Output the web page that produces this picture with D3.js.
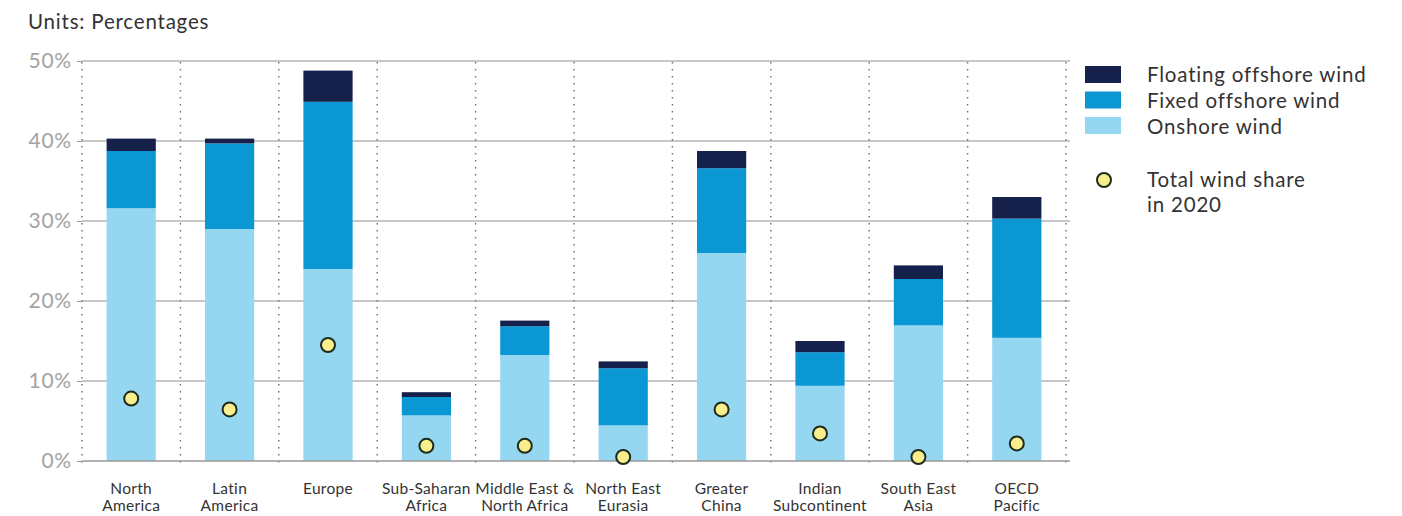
<!DOCTYPE html>
<html>
<head>
<meta charset="utf-8">
<script src="https://cdn.jsdelivr.net/npm/d3@7"></script>
<style>
  body { margin: 0; background: #fff; }
  svg { font-family: Lato, "Open Sans", sans-serif; }
</style>
</head>
<body>
<div id="chart"></div>
<script>
// Data
const regions = ["North America", "Latin America", "Europe", "Sub-Saharan Africa", "Middle East & North Africa",
    "North East Eurasia", "Greater China", "Indian Subcontinent", "South East Asia", "OECD Pacific"];
const regionLabels = [["North", "America"], ["Latin", "America"], ["Europe"], ["Sub-Saharan", "Africa"],
    ["Middle East &", "North Africa"], ["North East", "Eurasia"], ["Greater", "China"],
    ["Indian", "Subcontinent"], ["South East", "Asia"], ["OECD", "Pacific"]];
const onshore = [31.6, 29.0, 24.0, 5.7, 13.25, 4.45, 26.0, 9.4, 16.95, 15.4];
const fixedOffshore = [7.15, 10.7, 20.9, 2.3, 3.6, 7.15, 10.6, 4.2, 5.8, 14.9];
const floatingOffshore = [1.55, 0.6, 3.9, 0.6, 0.7, 0.85, 2.15, 1.4, 1.7, 2.7];
const share2020 = [7.8, 6.45, 14.5, 1.9, 1.9, 0.5, 6.45, 3.45, 0.5, 2.2];
const yTicks = [0, 10, 20, 30, 40, 50];

const seriesKeys = ["onshore", "fixed", "floating"];
const seriesNames = { floating: "Floating offshore wind", fixed: "Fixed offshore wind", onshore: "Onshore wind" };
const colors = { floating: "#15204b", fixed: "#0a97d3", onshore: "#95d6f0" };

const table = regions.map((r, i) => ({
    region: r, onshore: onshore[i], fixed: fixedOffshore[i], floating: floatingOffshore[i], share: share2020[i]
}));

const W = 1402, H = 516;
const svg = d3.select("#chart").append("svg").attr("width", W).attr("height", H);

const x = d3.scaleBand().domain(regions).range([82, 1066]).padding(0);
const y = d3.scaleLinear().domain([0, 50]).range([461, 61]);

// Units label
svg.append("text")
    .attr("x", 28).attr("y", 29)
    .attr("font-size", 20.5).attr("letter-spacing", 0.8).attr("fill", "#333")
    .text("Units: Percentages");

// Gridlines
svg.append("g").selectAll("line")
    .data(yTicks.filter(d => d > 0))
    .join("line")
    .attr("x1", 82).attr("x2", 1070)
    .attr("y1", d => y(d)).attr("y2", d => y(d))
    .attr("stroke", "#b5b5b5").attr("stroke-width", 1.3);

// Y axis labels and ticks
const yAxis = svg.append("g").attr("transform", "translate(82,0)")
    .call(d3.axisLeft(y).tickValues(yTicks).tickFormat(d => d + "%").tickSize(5).tickPadding(5));
yAxis.select(".domain").remove();
yAxis.selectAll(".tick line").attr("stroke", "#999");
yAxis.selectAll(".tick text")
    .attr("font-size", 21).attr("letter-spacing", 0.8).attr("fill", "#a3a3a3")
    .attr("font-family", "Lato, sans-serif");

// Dotted separators between regions (including left axis)
const seps = regions.map(r => x(r)).concat([x.range()[1]]);
svg.append("g").selectAll("line")
    .data(seps)
    .join("line")
    .attr("x1", d => d).attr("x2", d => d)
    .attr("y1", 62).attr("y2", 467)
    .attr("stroke", "#6f6f6f").attr("stroke-width", 1.4)
    .attr("stroke-dasharray", "1.4,5.6");

// Stacked bars
const stacked = d3.stack().keys(seriesKeys)(table);
const barW = x.bandwidth() * 0.5;
svg.append("g").selectAll("g")
    .data(stacked)
    .join("g")
    .attr("fill", d => colors[d.key])
    .selectAll("rect")
    .data(d => d)
    .join("rect")
    .attr("x", d => x(d.data.region) + (x.bandwidth() - barW) / 2)
    .attr("width", barW)
    .attr("y", d => y(d[1]))
    .attr("height", d => y(d[0]) - y(d[1]));

// X axis baseline
svg.append("line")
    .attr("x1", 82).attr("x2", 1070)
    .attr("y1", y(0)).attr("y2", y(0))
    .attr("stroke", "#999").attr("stroke-width", 1.5);

// Total wind share markers
svg.append("g").selectAll("circle")
    .data(table)
    .join("circle")
    .attr("cx", d => x(d.region) + x.bandwidth() / 2)
    .attr("cy", d => y(d.share))
    .attr("r", 7)
    .attr("fill", "#f8ef8c")
    .attr("stroke", "#1e2b1e").attr("stroke-width", 2);

// X labels
const xl = svg.append("g").selectAll("text")
    .data(regions)
    .join("text")
    .attr("x", d => x(d) + x.bandwidth() / 2)
    .attr("y", 494)
    .attr("text-anchor", "middle")
    .attr("font-size", 15.5).attr("letter-spacing", 0.3).attr("fill", "#333");
xl.selectAll("tspan")
    .data((d, i) => regionLabels[i])
    .join("tspan")
    .attr("x", function () { return this.parentNode.getAttribute("x"); })
    .attr("dy", (d, i) => i === 0 ? 0 : 17)
    .text(d => d);

// Legend
const legend = svg.append("g");
["floating", "fixed", "onshore"].forEach((k, i) => {
    legend.append("rect")
        .attr("x", 1085).attr("y", 66 + i * 25.5)
        .attr("width", 36).attr("height", 17)
        .attr("fill", colors[k]);
    legend.append("text")
        .attr("x", 1147).attr("y", 82 + i * 26)
        .attr("font-size", 20.5).attr("letter-spacing", 0.8).attr("fill", "#333")
        .text(seriesNames[k]);
});
legend.append("circle")
    .attr("cx", 1104).attr("cy", 180).attr("r", 7)
    .attr("fill", "#f8ef8c").attr("stroke", "#1e2b1e").attr("stroke-width", 2);
legend.append("text")
    .attr("x", 1147).attr("y", 187)
    .attr("font-size", 20.5).attr("letter-spacing", 0.8).attr("fill", "#333")
    .text("Total wind share");
legend.append("text")
    .attr("x", 1147).attr("y", 212)
    .attr("font-size", 20.5).attr("letter-spacing", 0.8).attr("fill", "#333")
    .text("in 2020");
</script>
</body>
</html>
